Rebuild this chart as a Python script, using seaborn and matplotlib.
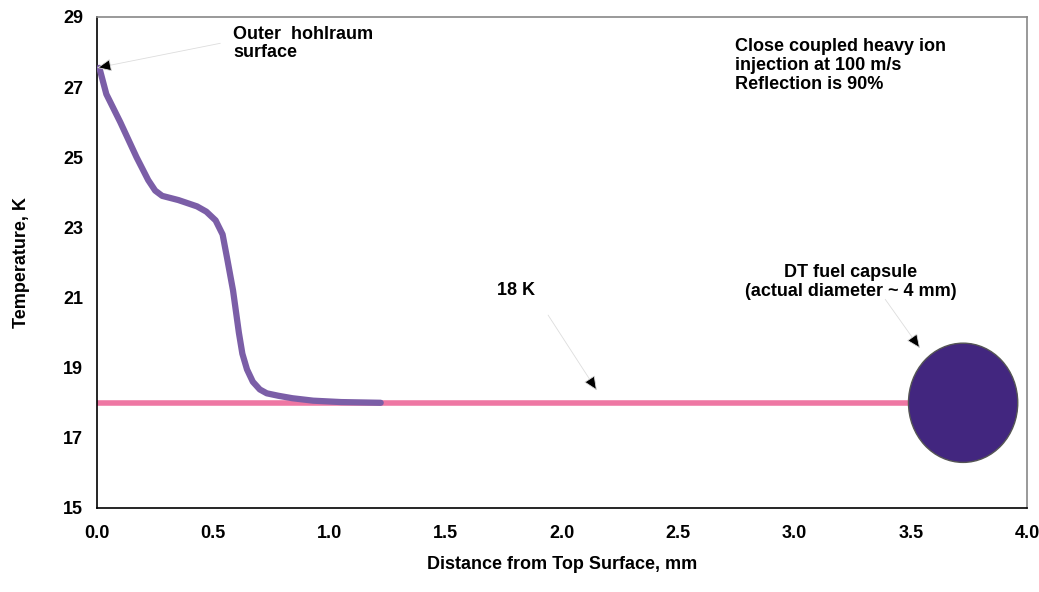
import matplotlib
matplotlib.use("Agg")
import matplotlib.pyplot as plt
import seaborn as sns
import pandas as pd
from matplotlib.patches import Ellipse

# temperature profile from the hohlraum surface inwards
distance_mm = [0.01, 0.04, 0.10, 0.17, 0.22, 0.25, 0.28, 0.35, 0.43, 0.47, 0.51, 0.54,
               0.56, 0.585, 0.61, 0.625, 0.645, 0.67, 0.70, 0.73, 0.78, 0.84, 0.93, 1.05, 1.22]
temperature_k = [27.55, 26.8, 26.0, 25.0, 24.35, 24.05, 23.9, 23.78, 23.6, 23.45, 23.2, 22.8,
                 22.1, 21.2, 20.0, 19.4, 18.95, 18.6, 18.38, 18.27, 18.2, 18.13, 18.06, 18.02, 18.0]

# 18 K reference line up to the capsule
ref_x = [0.0, 3.5]
ref_t = [18.0, 18.0]

# capsule (drawn to scale of the plot, not real size)
capsule_x = 3.725
capsule_t = 18.0
capsule_w = 0.47
capsule_h = 3.4

x_ticks = [0.0, 0.5, 1.0, 1.5, 2.0, 2.5, 3.0, 3.5, 4.0]
y_ticks = [15, 17, 19, 21, 23, 25, 27, 29]

sns.set_style("white")
plt.rcParams["font.family"] = ["Liberation Sans Narrow", "Liberation Sans", "DejaVu Sans"]
plt.rcParams["font.weight"] = "bold"
plt.rcParams["text.color"] = "black"
plt.rcParams["axes.labelcolor"] = "black"

fig = plt.figure(figsize=(10.39, 5.92), dpi=100)
ax = fig.add_axes([0.0934, 0.1419, 0.8951, 0.8294])

df_ref = pd.DataFrame({"x": ref_x, "t": ref_t})
df_prof = pd.DataFrame({"x": distance_mm, "t": temperature_k})

sns.lineplot(data=df_ref, x="x", y="t", ax=ax, color="#ee77a3", linewidth=4, zorder=2)
sns.lineplot(data=df_prof, x="x", y="t", ax=ax, color="#7b5ea7", linewidth=4.5,
             zorder=3, sort=False, solid_joinstyle="round", solid_capstyle="round")

ax.add_patch(Ellipse((capsule_x, capsule_t), capsule_w, capsule_h,
                     facecolor="#42267f", edgecolor="#555555", linewidth=1, zorder=4))

ax.set_xlim(0, 4)
ax.set_ylim(15, 29)
ax.set_xticks(x_ticks)
ax.set_xticklabels([f"{v:.1f}" for v in x_ticks])
ax.set_yticks(y_ticks)
ax.tick_params(axis="both", direction="out", length=5, width=1, colors="black",
               labelsize=13, pad=5)
ax.tick_params(axis="x", pad=7)
for lbl in ax.get_xticklabels() + ax.get_yticklabels():
    lbl.set_fontweight("bold")

for side in ["left", "bottom"]:
    ax.spines[side].set_color("black")
    ax.spines[side].set_linewidth(1.2)
for side in ["top", "right"]:
    ax.spines[side].set_color("#888888")
    ax.spines[side].set_linewidth(1.2)

ax.set_xlabel("Distance from Top Surface, mm", fontsize=13, fontweight="bold", labelpad=10)
ax.set_ylabel("Temperature, K", fontsize=13, fontweight="bold", labelpad=24)

arrow = dict(arrowstyle="-|>,head_length=0.9,head_width=0.4", color="#dddddd",
             lw=0.6, shrinkA=0, shrinkB=0)
fs = 13

a1 = ax.annotate("", xy=(0.0, 27.55), xytext=(0.53, 28.25), arrowprops=arrow)
a1.arrow_patch.set_facecolor("black")
ax.text(0.585, 28.75, "Outer  hohlraum\nsurface", fontsize=fs, fontweight="bold",
        ha="left", va="top", linespacing=1.1)

a2 = ax.annotate("", xy=(2.15, 18.35), xytext=(1.94, 20.5), arrowprops=arrow)
a2.arrow_patch.set_facecolor("black")
ax.text(1.72, 21.45, "18 K", fontsize=fs, fontweight="bold", ha="left", va="top")

a3 = ax.annotate("", xy=(3.54, 19.55), xytext=(3.39, 20.95), arrowprops=arrow)
a3.arrow_patch.set_facecolor("black")
ax.text(3.24, 21.95, "DT fuel capsule\n(actual diameter ~ 4 mm)", fontsize=fs,
        fontweight="bold", ha="center", va="top", linespacing=1.15)

ax.text(2.745, 28.4, "Close coupled heavy ion\ninjection at 100 m/s\nReflection is 90%",
        fontsize=fs, fontweight="bold", ha="left", va="top", linespacing=1.15)

fig.savefig("out.png", dpi=100)
